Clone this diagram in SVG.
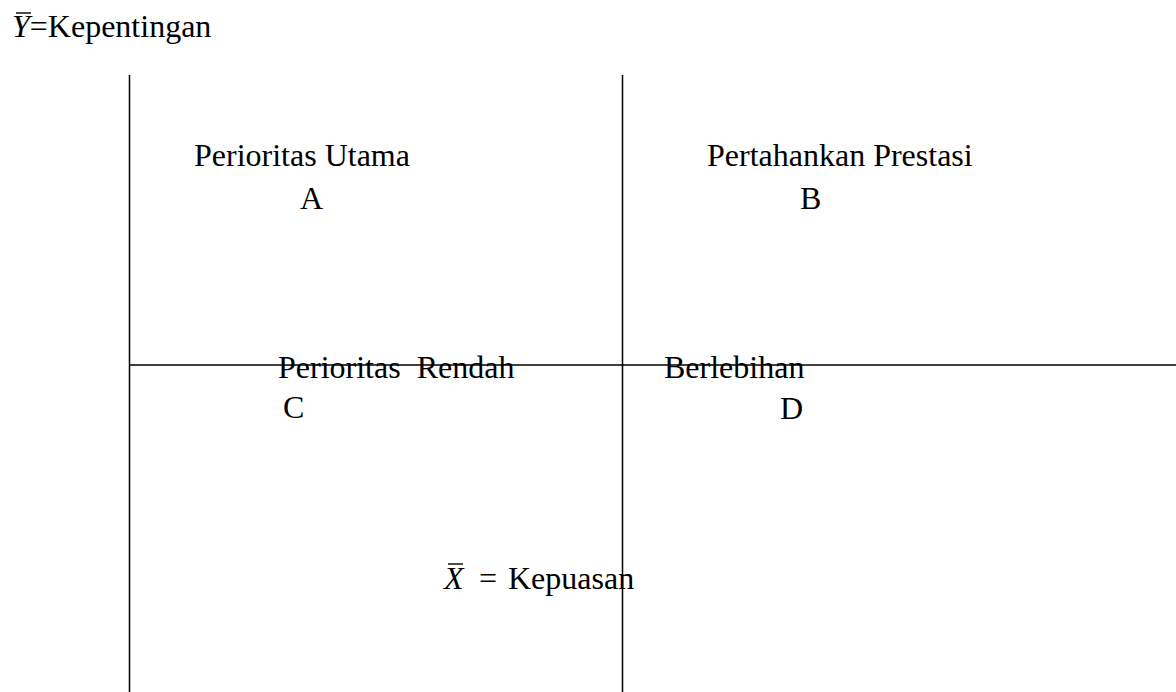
<svg xmlns="http://www.w3.org/2000/svg" width="1176" height="692" viewBox="0 0 1176 692">
<style>
text{font-family:"Liberation Serif","Times New Roman",serif;font-size:32px;fill:#000}
.ax{stroke:#000;stroke-width:1.5;fill:none}
.bar{stroke:#000;stroke-width:1.4}
.it{font-style:italic}
</style>
<rect width="1176" height="692" fill="#fff"/>
<g id="connectors">
<line class="ax" x1="129.5" y1="75" x2="129.5" y2="692"/>
<line class="ax" x1="622.5" y1="75" x2="622.5" y2="692"/>
<line class="ax" x1="129" y1="365" x2="1176" y2="365"/>
</g>
<g id="y-label">
<text x="12" y="37"><tspan class="it">Y</tspan>=Kepentingan</text>
<line class="bar" x1="16" y1="13" x2="31" y2="13"/>
</g>
<g id="quadrant-a">
<text x="194" y="166">Perioritas Utama</text>
<text x="300" y="209">A</text>
</g>
<g id="quadrant-b">
<text x="707" y="166">Pertahankan Prestasi</text>
<text x="800" y="209">B</text>
</g>
<g id="quadrant-c">
<text x="278" y="378" xml:space="preserve">Perioritas  Rendah</text>
<text x="283" y="418">C</text>
</g>
<g id="quadrant-d">
<text x="664" y="378">Berlebihan</text>
<text x="780" y="419">D</text>
</g>
<g id="x-label">
<text x="444" y="589" class="it">X</text>
<line class="bar" x1="448" y1="564" x2="463" y2="564"/>
<text x="479" y="589">=</text>
<text x="508" y="589">Kepuasan</text>
</g>
</svg>
